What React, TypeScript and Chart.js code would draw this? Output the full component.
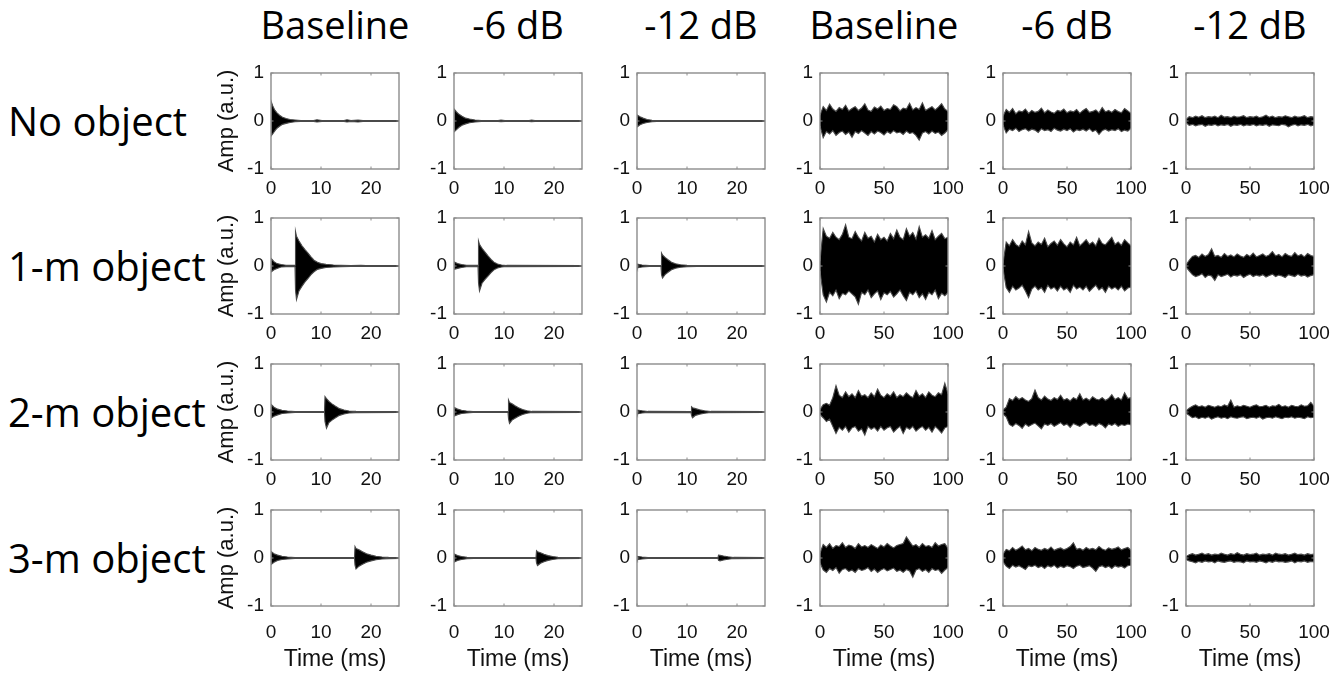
import React, { useEffect, useRef } from "react";
import { Chart, registerables } from "chart.js";

Chart.register(...registerables);

// ---------- labels ----------
const columnTitles = ["Baseline", "-6 dB", "-12 dB", "Baseline", "-6 dB", "-12 dB"];
const rowLabels = ["No object", "1-m object", "2-m object", "3-m object"];
const ampTicks = [-1, 0, 1];
const burstTicks = [0, 10, 20];
const noiseTicks = [0, 50, 100];
const burstMax = 25.6;
const noiseMax = 100;
const xTitle = "Time (ms)";
const yTitle = "Amp (a.u.)";

// ---------- echo (left three columns): [time ms, upper envelope, lower envelope] ----------
const noObjectBaseline = [[0,0,0],[0.1,0.39,-0.3],[0.4,0.3,-0.26],[0.8,0.22,-0.2],[1.2,0.17,-0.15],[1.7,0.12,-0.11],[2.3,0.08,-0.07],[3,0.05,-0.05],[3.8,0.03,-0.03],[4.8,0.02,-0.015],[6,0.01,-0.01],[8.5,0.01,-0.01],[9.2,0.025,-0.02],[10.2,0.01,-0.01],[14.6,0.01,-0.01],[15.2,0.025,-0.02],[16,0.01,-0.01],[17.4,0.02,-0.02],[18.4,0.01,-0.01],[25.6,0.01,-0.01]];
const noObject6dB = [[0,0,0],[0.1,0.24,-0.22],[0.5,0.19,-0.18],[1,0.14,-0.13],[1.6,0.1,-0.09],[2.3,0.06,-0.06],[3.1,0.04,-0.035],[4.2,0.02,-0.02],[5.5,0.01,-0.01],[8.8,0.01,-0.01],[9.4,0.02,-0.015],[10.2,0.01,-0.01],[15,0.01,-0.01],[15.5,0.02,-0.015],[16.2,0.01,-0.01],[25.6,0.01,-0.01]];
const noObject12dB = [[0,0,0],[0.1,0.12,-0.12],[0.6,0.09,-0.08],[1.2,0.06,-0.05],[2,0.03,-0.03],[3,0.015,-0.015],[4,0.008,-0.008],[25.6,0.008,-0.008]];

const oneMBaseline = [[0,0,0],[0.1,0.15,-0.12],[0.6,0.09,-0.08],[1.2,0.05,-0.05],[2,0.03,-0.02],[3,0.015,-0.015],[4.8,0.015,-0.015],[4.9,0.72,-0.5],[5.1,0.62,-0.7],[5.6,0.52,-0.52],[6.2,0.42,-0.42],[6.8,0.34,-0.33],[7.4,0.27,-0.26],[8,0.19,-0.18],[8.6,0.12,-0.12],[9.3,0.08,-0.07],[10,0.05,-0.05],[11,0.035,-0.03],[12.5,0.02,-0.02],[14,0.015,-0.015],[16,0.01,-0.01],[18,0.015,-0.01],[19,0.01,-0.01],[25.6,0.01,-0.01]];
const oneM6dB = [[0,0,0],[0.1,0.08,-0.07],[0.7,0.05,-0.05],[1.5,0.03,-0.03],[2.5,0.015,-0.015],[4.8,0.012,-0.012],[4.9,0.52,-0.35],[5.1,0.45,-0.52],[5.6,0.37,-0.36],[6.2,0.29,-0.28],[6.8,0.21,-0.21],[7.4,0.14,-0.14],[8,0.08,-0.08],[8.7,0.04,-0.04],[9.5,0.02,-0.02],[10.5,0.012,-0.012],[25.6,0.01,-0.01]];
const oneM12dB = [[0,0,0],[0.1,0.04,-0.04],[1,0.02,-0.02],[2.5,0.01,-0.01],[4.8,0.01,-0.01],[4.9,0.27,-0.18],[5.1,0.23,-0.25],[5.6,0.18,-0.18],[6.2,0.13,-0.13],[6.9,0.08,-0.08],[7.7,0.045,-0.045],[8.7,0.025,-0.025],[10,0.015,-0.015],[12,0.01,-0.01],[25.6,0.008,-0.008]];

const twoMBaseline = [[0,0,0],[0.1,0.15,-0.12],[0.6,0.1,-0.09],[1.3,0.06,-0.06],[2.2,0.035,-0.03],[3.3,0.02,-0.02],[4.8,0.01,-0.01],[10.7,0.01,-0.01],[10.8,0.32,-0.2],[11.1,0.28,-0.34],[11.6,0.22,-0.22],[12.2,0.17,-0.17],[12.9,0.12,-0.12],[13.7,0.07,-0.07],[14.6,0.04,-0.04],[15.6,0.02,-0.02],[17,0.012,-0.012],[25.6,0.01,-0.01]];
const twoM6dB = [[0,0,0],[0.1,0.09,-0.08],[0.7,0.06,-0.055],[1.5,0.035,-0.03],[2.5,0.02,-0.02],[3.8,0.01,-0.01],[10.8,0.01,-0.01],[10.9,0.25,-0.14],[11.1,0.2,-0.24],[11.6,0.17,-0.17],[12.2,0.13,-0.13],[12.9,0.09,-0.09],[13.7,0.05,-0.05],[14.6,0.025,-0.025],[15.6,0.012,-0.012],[25.6,0.01,-0.01]];
const twoM12dB = [[0,0,0],[0.1,0.04,-0.04],[1,0.025,-0.02],[2.2,0.012,-0.012],[10.8,0.01,-0.01],[10.9,0.11,-0.07],[11.1,0.09,-0.12],[11.7,0.07,-0.07],[12.5,0.045,-0.045],[13.5,0.025,-0.025],[14.8,0.012,-0.012],[25.6,0.008,-0.008]];

const threeMBaseline = [[0,0,0],[0.1,0.13,-0.13],[0.6,0.09,-0.09],[1.3,0.06,-0.05],[2.2,0.035,-0.03],[3.3,0.02,-0.02],[4.8,0.01,-0.01],[16.7,0.01,-0.01],[16.8,0.24,-0.15],[17,0.2,-0.23],[17.6,0.17,-0.17],[18.3,0.13,-0.13],[19.1,0.09,-0.09],[20,0.06,-0.06],[21,0.035,-0.035],[22.2,0.02,-0.02],[23.5,0.012,-0.012],[25.6,0.01,-0.01]];
const threeM6dB = [[0,0,0],[0.1,0.08,-0.08],[0.7,0.05,-0.05],[1.5,0.03,-0.03],[2.6,0.015,-0.015],[4,0.01,-0.01],[16.4,0.01,-0.01],[16.5,0.15,-0.1],[16.7,0.13,-0.16],[17.3,0.11,-0.11],[18,0.08,-0.08],[18.8,0.05,-0.05],[19.7,0.03,-0.03],[20.8,0.015,-0.015],[25.6,0.008,-0.008]];
const threeM12dB = [[0,0,0],[0.1,0.035,-0.035],[1,0.02,-0.02],[2.2,0.01,-0.01],[16.2,0.008,-0.008],[16.3,0.06,-0.05],[16.6,0.055,-0.06],[17.3,0.04,-0.04],[18.2,0.025,-0.025],[19.3,0.012,-0.012],[25.6,0.008,-0.008]];

// ---------- noise (right three columns): envelope samples every 2.5 ms ----------
const noiseTimes = [0,2.5,5,7.5,10,12.5,15,17.5,20,22.5,25,27.5,30,32.5,35,37.5,40,42.5,45,47.5,50,52.5,55,57.5,60,62.5,65,67.5,70,72.5,75,77.5,80,82.5,85,87.5,90,92.5,95,97.5,100];

const noObjectBaselineUp = [0.12,0.3,0.22,0.35,0.25,0.2,0.28,0.24,0.33,0.21,0.26,0.3,0.22,0.27,0.36,0.23,0.2,0.29,0.25,0.31,0.22,0.26,0.24,0.34,0.3,0.21,0.27,0.25,0.37,0.23,0.28,0.24,0.38,0.22,0.26,0.3,0.23,0.29,0.36,0.25,0.2];
const noObjectBaselineLow = [-0.1,-0.35,-0.22,-0.27,-0.2,-0.3,-0.24,-0.21,-0.28,-0.23,-0.34,-0.22,-0.26,-0.2,-0.25,-0.3,-0.22,-0.27,-0.21,-0.24,-0.29,-0.22,-0.26,-0.2,-0.25,-0.23,-0.28,-0.21,-0.26,-0.24,-0.3,-0.4,-0.25,-0.22,-0.27,-0.21,-0.26,-0.23,-0.3,-0.25,-0.18];
const noObject6dBUp = [0.1,0.24,0.18,0.26,0.15,0.21,0.19,0.25,0.16,0.22,0.18,0.2,0.27,0.17,0.23,0.19,0.16,0.22,0.2,0.25,0.17,0.21,0.19,0.24,0.16,0.22,0.26,0.18,0.2,0.23,0.17,0.28,0.19,0.22,0.18,0.24,0.2,0.17,0.26,0.21,0.16];
const noObject6dBLow = [-0.08,-0.25,-0.17,-0.2,-0.15,-0.22,-0.18,-0.16,-0.21,-0.17,-0.19,-0.24,-0.16,-0.2,-0.18,-0.22,-0.15,-0.19,-0.21,-0.17,-0.2,-0.16,-0.23,-0.18,-0.2,-0.17,-0.21,-0.16,-0.22,-0.19,-0.28,-0.2,-0.17,-0.21,-0.18,-0.2,-0.16,-0.22,-0.19,-0.21,-0.15];
const noObject12dBUp = [0.03,0.09,0.07,0.1,0.08,0.11,0.07,0.09,0.08,0.1,0.07,0.12,0.08,0.09,0.07,0.1,0.08,0.09,0.11,0.07,0.09,0.08,0.1,0.07,0.09,0.12,0.08,0.1,0.07,0.09,0.08,0.11,0.09,0.07,0.1,0.08,0.09,0.11,0.07,0.09,0.08];
const noObject12dBLow = [-0.03,-0.09,-0.07,-0.1,-0.08,-0.07,-0.11,-0.08,-0.09,-0.07,-0.1,-0.08,-0.09,-0.07,-0.11,-0.08,-0.09,-0.07,-0.1,-0.08,-0.09,-0.07,-0.1,-0.08,-0.09,-0.07,-0.11,-0.08,-0.09,-0.1,-0.07,-0.08,-0.12,-0.09,-0.07,-0.1,-0.08,-0.09,-0.07,-0.1,-0.08];

const oneMBaselineUp = [0.1,0.78,0.62,0.58,0.7,0.6,0.55,0.66,0.86,0.6,0.57,0.72,0.6,0.52,0.7,0.58,0.62,0.5,0.66,0.55,0.6,0.52,0.68,0.57,0.75,0.6,0.55,0.78,0.62,0.7,0.56,0.82,0.6,0.65,0.58,0.74,0.55,0.62,0.68,0.57,0.6];
const oneMBaselineLow = [-0.1,-0.6,-0.75,-0.55,-0.62,-0.5,-0.68,-0.57,-0.6,-0.52,-0.58,-0.64,-0.8,-0.55,-0.6,-0.5,-0.66,-0.58,-0.52,-0.7,-0.56,-0.6,-0.53,-0.65,-0.58,-0.5,-0.62,-0.72,-0.55,-0.6,-0.52,-0.66,-0.58,-0.7,-0.55,-0.6,-0.5,-0.68,-0.57,-0.62,-0.55];
const oneM6dBUp = [0.05,0.5,0.42,0.55,0.45,0.4,0.52,0.44,0.72,0.48,0.42,0.5,0.45,0.58,0.4,0.47,0.52,0.43,0.55,0.46,0.4,0.5,0.44,0.6,0.42,0.48,0.55,0.45,0.5,0.42,0.58,0.47,0.44,0.52,0.6,0.45,0.5,0.43,0.55,0.48,0.42];
const oneM6dBLow = [-0.05,-0.45,-0.55,-0.42,-0.5,-0.46,-0.4,-0.52,-0.66,-0.48,-0.42,-0.5,-0.45,-0.55,-0.4,-0.48,-0.44,-0.52,-0.42,-0.5,-0.46,-0.55,-0.4,-0.48,-0.44,-0.5,-0.42,-0.53,-0.46,-0.4,-0.5,-0.45,-0.55,-0.42,-0.48,-0.44,-0.5,-0.42,-0.52,-0.46,-0.44];
const oneM12dBUp = [0.02,0.12,0.2,0.22,0.18,0.25,0.2,0.24,0.36,0.2,0.22,0.18,0.26,0.2,0.23,0.19,0.25,0.21,0.18,0.24,0.2,0.27,0.19,0.22,0.25,0.2,0.23,0.3,0.21,0.24,0.19,0.26,0.22,0.2,0.28,0.21,0.24,0.19,0.26,0.22,0.2];
const oneM12dBLow = [-0.02,-0.1,-0.18,-0.22,-0.2,-0.16,-0.24,-0.19,-0.21,-0.3,-0.18,-0.22,-0.2,-0.17,-0.23,-0.19,-0.21,-0.18,-0.24,-0.2,-0.17,-0.22,-0.19,-0.21,-0.18,-0.23,-0.2,-0.17,-0.22,-0.19,-0.21,-0.24,-0.18,-0.2,-0.22,-0.17,-0.21,-0.19,-0.23,-0.2,-0.18];

const twoMBaselineUp = [0.05,0.15,0.18,0.14,0.3,0.55,0.35,0.3,0.42,0.32,0.38,0.3,0.45,0.33,0.36,0.3,0.4,0.32,0.48,0.35,0.3,0.38,0.33,0.42,0.3,0.36,0.32,0.4,0.34,0.3,0.45,0.33,0.38,0.3,0.42,0.35,0.32,0.4,0.36,0.6,0.38];
const twoMBaselineLow = [-0.05,-0.12,-0.2,-0.15,-0.3,-0.45,-0.32,-0.38,-0.3,-0.42,-0.33,-0.3,-0.4,-0.35,-0.48,-0.3,-0.36,-0.32,-0.4,-0.3,-0.38,-0.33,-0.3,-0.42,-0.35,-0.3,-0.45,-0.32,-0.36,-0.3,-0.4,-0.34,-0.3,-0.38,-0.32,-0.42,-0.3,-0.36,-0.44,-0.33,-0.3];
const twoM6dBUp = [0.04,0.1,0.28,0.24,0.32,0.26,0.3,0.25,0.22,0.28,0.46,0.3,0.25,0.33,0.27,0.24,0.3,0.26,0.35,0.25,0.28,0.23,0.3,0.26,0.38,0.25,0.29,0.24,0.32,0.27,0.25,0.3,0.24,0.28,0.36,0.26,0.3,0.25,0.4,0.28,0.3];
const twoM6dBLow = [-0.04,-0.1,-0.26,-0.3,-0.24,-0.28,-0.34,-0.25,-0.3,-0.26,-0.23,-0.29,-0.35,-0.25,-0.28,-0.24,-0.3,-0.26,-0.22,-0.28,-0.25,-0.32,-0.24,-0.27,-0.3,-0.25,-0.22,-0.28,-0.26,-0.3,-0.24,-0.27,-0.33,-0.25,-0.28,-0.24,-0.3,-0.26,-0.28,-0.25,-0.27];
const twoM12dBUp = [0.02,0.08,0.12,0.15,0.11,0.13,0.1,0.14,0.12,0.1,0.13,0.11,0.15,0.12,0.25,0.1,0.13,0.11,0.14,0.12,0.1,0.13,0.15,0.11,0.12,0.14,0.1,0.13,0.12,0.16,0.11,0.13,0.1,0.14,0.12,0.11,0.15,0.12,0.13,0.2,0.12];
const twoM12dBLow = [-0.02,-0.07,-0.12,-0.1,-0.14,-0.11,-0.13,-0.1,-0.15,-0.12,-0.1,-0.13,-0.11,-0.14,-0.1,-0.12,-0.13,-0.11,-0.1,-0.14,-0.12,-0.11,-0.13,-0.1,-0.15,-0.12,-0.11,-0.13,-0.1,-0.12,-0.14,-0.11,-0.12,-0.1,-0.13,-0.11,-0.12,-0.14,-0.1,-0.12,-0.11];

const threeMBaselineUp = [0.1,0.28,0.22,0.3,0.2,0.26,0.24,0.32,0.22,0.27,0.25,0.2,0.3,0.23,0.26,0.22,0.28,0.24,0.2,0.27,0.23,0.3,0.25,0.21,0.26,0.28,0.3,0.44,0.34,0.25,0.28,0.22,0.3,0.24,0.26,0.22,0.32,0.25,0.28,0.3,0.2];
const threeMBaselineLow = [-0.1,-0.25,-0.3,-0.22,-0.26,-0.2,-0.32,-0.24,-0.22,-0.28,-0.25,-0.3,-0.22,-0.26,-0.24,-0.2,-0.28,-0.23,-0.3,-0.25,-0.22,-0.27,-0.24,-0.21,-0.28,-0.25,-0.3,-0.24,-0.27,-0.4,-0.25,-0.22,-0.28,-0.24,-0.3,-0.22,-0.26,-0.24,-0.32,-0.25,-0.2];
const threeM6dBUp = [0.08,0.18,0.15,0.22,0.16,0.2,0.25,0.17,0.2,0.15,0.22,0.18,0.16,0.2,0.17,0.23,0.16,0.19,0.21,0.17,0.2,0.24,0.32,0.18,0.2,0.16,0.22,0.18,0.2,0.17,0.24,0.19,0.16,0.21,0.18,0.2,0.23,0.17,0.2,0.22,0.16];
const threeM6dBLow = [-0.08,-0.17,-0.22,-0.15,-0.19,-0.16,-0.2,-0.24,-0.16,-0.18,-0.15,-0.2,-0.17,-0.22,-0.16,-0.19,-0.15,-0.21,-0.17,-0.2,-0.16,-0.18,-0.22,-0.17,-0.15,-0.2,-0.18,-0.16,-0.21,-0.28,-0.18,-0.16,-0.2,-0.17,-0.22,-0.16,-0.19,-0.17,-0.21,-0.16,-0.15];
const threeM12dBUp = [0.03,0.07,0.09,0.06,0.08,0.1,0.07,0.09,0.06,0.08,0.07,0.1,0.08,0.06,0.09,0.07,0.11,0.08,0.06,0.09,0.07,0.08,0.1,0.06,0.08,0.07,0.09,0.06,0.1,0.08,0.07,0.09,0.06,0.08,0.1,0.07,0.08,0.06,0.09,0.07,0.08];
const threeM12dBLow = [-0.03,-0.06,-0.08,-0.1,-0.07,-0.09,-0.06,-0.08,-0.07,-0.1,-0.06,-0.08,-0.09,-0.07,-0.06,-0.09,-0.07,-0.08,-0.1,-0.06,-0.08,-0.07,-0.09,-0.06,-0.08,-0.1,-0.07,-0.09,-0.06,-0.08,-0.07,-0.09,-0.08,-0.06,-0.1,-0.07,-0.08,-0.06,-0.09,-0.07,-0.08];

const echoRows = [
  [noObjectBaseline, noObject6dB, noObject12dB],
  [oneMBaseline, oneM6dB, oneM12dB],
  [twoMBaseline, twoM6dB, twoM12dB],
  [threeMBaseline, threeM6dB, threeM12dB],
];
const noiseRows = [
  [[noObjectBaselineUp, noObjectBaselineLow], [noObject6dBUp, noObject6dBLow], [noObject12dBUp, noObject12dBLow]],
  [[oneMBaselineUp, oneMBaselineLow], [oneM6dBUp, oneM6dBLow], [oneM12dBUp, oneM12dBLow]],
  [[twoMBaselineUp, twoMBaselineLow], [twoM6dBUp, twoM6dBLow], [twoM12dBUp, twoM12dBLow]],
  [[threeMBaselineUp, threeMBaselineLow], [threeM6dBUp, threeM6dBLow], [threeM12dBUp, threeM12dBLow]],
];

// ---------- layout ----------
const boxLefts = [271, 454, 637, 820, 1003, 1186];
const boxTops = [73, 218, 364, 510];
const boxW = 128;
const boxH = 96;
const titleCenters = [335, 518, 701, 884, 1067, 1250];

const tickFont = { family: "'Liberation Sans', Arial, sans-serif", size: 19 };
const labelFont = "'Open Sans', 'Noto Sans', sans-serif";

const framePlugin = {
  id: "frame",
  afterDatasetsDraw(chart: any) {
    const { ctx, chartArea: a, scales } = chart;
    ctx.save();
    ctx.strokeStyle = "#8c8c8c";
    ctx.lineWidth = 1.4;
    ctx.strokeRect(a.left, a.top, a.right - a.left, a.bottom - a.top);
    ctx.lineWidth = 1;
    ctx.beginPath();
    for (const t of scales.x.ticks) {
      const x = scales.x.getPixelForValue(t.value);
      ctx.moveTo(x, a.top);
      ctx.lineTo(x, a.top + 2.5);
      ctx.moveTo(x, a.bottom);
      ctx.lineTo(x, a.bottom - 2.5);
    }
    for (const t of scales.y.ticks) {
      const y = scales.y.getPixelForValue(t.value);
      ctx.moveTo(a.left, y);
      ctx.lineTo(a.left + 2.5, y);
      ctx.moveTo(a.right, y);
      ctx.lineTo(a.right - 2.5, y);
    }
    ctx.stroke();
    ctx.restore();
  },
};

type PanelSpec = {
  key: string;
  left: number;
  top: number;
  upper: { x: number; y: number }[];
  lower: { x: number; y: number }[];
  xMax: number;
  xTicks: number[];
  showYTitle: boolean;
  showXTitle: boolean;
};

const PAD_T = 14;
const PAD_R = 22;

function Panel({ spec }: { spec: PanelSpec }) {
  const ref = useRef<HTMLCanvasElement>(null);
  const axisW = spec.showYTitle ? 64 : 44;
  const axisH = spec.showXTitle ? 673 - (spec.top + boxH) : 36;
  const width = axisW + boxW + PAD_R;
  const height = PAD_T + boxH + axisH;

  useEffect(() => {
    if (!ref.current) return;
    const chart = new Chart(ref.current, {
      type: "line",
      data: {
        datasets: [
          {
            data: spec.upper,
            borderColor: "#4a4a4a",
            borderWidth: 1.1,
            pointRadius: 0,
            tension: 0,
            fill: false,
          },
          {
            data: spec.lower,
            borderColor: "#4a4a4a",
            borderWidth: 1.1,
            pointRadius: 0,
            tension: 0,
            fill: "-1",
            backgroundColor: "#000000",
          },
        ],
      },
      options: {
        animation: false,
        responsive: false,
        events: [],
        layout: { padding: { top: PAD_T, right: PAD_R, left: 0, bottom: 0 } },
        plugins: { legend: { display: false }, tooltip: { enabled: false } },
        scales: {
          x: {
            type: "linear",
            min: 0,
            max: spec.xMax,
            afterBuildTicks: (s: any) => {
              s.ticks = spec.xTicks.map((v) => ({ value: v }));
            },
            afterFit: (s: any) => {
              s.height = axisH;
              s.paddingLeft = 0;
              s.paddingRight = 0;
            },
            grid: { display: false, drawTicks: false },
            border: { display: false },
            ticks: {
              font: tickFont,
              color: "#111",
              padding: spec.showXTitle ? 15 : 8,
              maxRotation: 0,
              autoSkip: false,
            },
            title: {
              display: spec.showXTitle,
              text: xTitle,
              font: { family: tickFont.family, size: 23 },
              color: "#111",
              padding: { top: 0, bottom: 0 },
            },
          },
          y: {
            type: "linear",
            min: -1,
            max: 1,
            afterBuildTicks: (s: any) => {
              s.ticks = ampTicks.map((v) => ({ value: v }));
            },
            afterFit: (s: any) => {
              s.width = axisW;
              s.paddingTop = 0;
              s.paddingBottom = 0;
            },
            grid: { display: false, drawTicks: false },
            border: { display: false },
            ticks: { font: tickFont, color: "#111", padding: 7, autoSkip: false },
            title: {
              display: spec.showYTitle,
              text: yTitle,
              font: { family: tickFont.family, size: 22 },
              color: "#111",
              padding: { top: 7, bottom: 0 },
            },
          },
        },
      },
      plugins: [framePlugin],
    } as any);
    return () => chart.destroy();
  }, []);

  return (
    <canvas
      ref={ref}
      width={width}
      height={height}
      style={{ position: "absolute", left: spec.left - axisW, top: spec.top - PAD_T, width, height }}
    />
  );
}

function buildPanels(): PanelSpec[] {
  const out: PanelSpec[] = [];
  for (let r = 0; r < 4; r++) {
    for (let c = 0; c < 6; c++) {
      let upper, lower, xMax, xTicks;
      if (c < 3) {
        const pts = echoRows[r][c];
        upper = pts.map((p) => ({ x: p[0], y: p[1] }));
        lower = pts.map((p) => ({ x: p[0], y: p[2] }));
        xMax = burstMax;
        xTicks = burstTicks;
      } else {
        const [up, low] = noiseRows[r][c - 3];
        upper = noiseTimes.map((t, i) => ({ x: t, y: up[i] }));
        lower = noiseTimes.map((t, i) => ({ x: t, y: low[i] }));
        xMax = noiseMax;
        xTicks = noiseTicks;
      }
      out.push({
        key: `p${r}${c}`,
        left: boxLefts[c],
        top: boxTops[r],
        upper,
        lower,
        xMax,
        xTicks,
        showYTitle: c === 0,
        showXTitle: r === 3,
      });
    }
  }
  return out;
}

const panels = buildPanels();

export default function App() {
  return (
    <div
      style={{
        position: "absolute",
        left: 0,
        top: 0,
        width: 1342,
        height: 673,
        overflow: "hidden",
        background: "#fff",
      }}
    >
      {columnTitles.map((t, i) => (
        <div
          key={"t" + i}
          style={{
            position: "absolute",
            left: titleCenters[i] - 110,
            width: 220,
            top: 5,
            textAlign: "center",
            fontFamily: labelFont,
            fontSize: 38,
            lineHeight: "38px",
            color: "#000",
            whiteSpace: "nowrap",
          }}
        >
          {t}
        </div>
      ))}
      {rowLabels.map((t, i) => (
        <div
          key={"r" + i}
          style={{
            position: "absolute",
            left: 8,
            top: boxTops[i] + boxH / 2 - 20,
            fontFamily: labelFont,
            fontSize: 40,
            lineHeight: "40px",
            color: "#000",
            whiteSpace: "nowrap",
          }}
        >
          {t}
        </div>
      ))}
      {panels.map((p) => (
        <Panel key={p.key} spec={p} />
      ))}
    </div>
  );
}
